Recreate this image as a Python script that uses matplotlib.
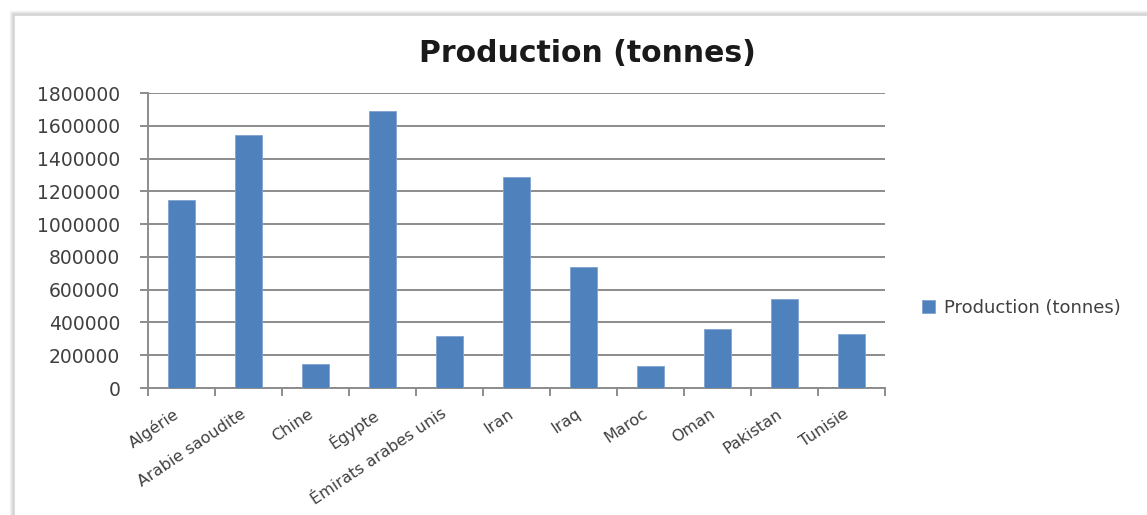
import matplotlib
matplotlib.use("Agg")
import matplotlib.pyplot as plt
from matplotlib.patches import Rectangle
from matplotlib.ticker import FixedLocator
import numpy as np

categories = ["Algérie", "Arabie saoudite", "Chine", "Égypte", "Émirats arabes unis",
              "Iran", "Iraq", "Maroc", "Oman", "Pakistan", "Tunisie"]
production = [1150000, 1545000, 148000, 1690000, 318000,
              1290000, 736000, 135000, 363000, 544000, 330000]
yticks = [0, 200000, 400000, 600000, 800000, 1000000, 1200000, 1400000, 1600000, 1800000]
title = "Production (tonnes)"
series_name = "Production (tonnes)"

BAR = "#4F81BD"
TXT = "#404040"
GRID = "#8c8c8c"

plt.rcParams["font.family"] = ["DejaVu Sans"]

W, H = 1147, 515
fig = plt.figure(figsize=(W / 100, H / 100), dpi=100)
fig.patch.set_facecolor("white")

# outer chart frame with soft shadow
for i, a in enumerate([0.04, 0.07, 0.10, 0.15]):
    off = 4 - i
    fig.add_artist(Rectangle(((14 - off) / W, -0.1), (W + 50) / W, (H - 15 + off) / H + 0.1,
                             transform=fig.transFigure, fill=False,
                             edgecolor="#000000", alpha=a, linewidth=1.0))
fig.add_artist(Rectangle((14 / W, -0.1), (W + 50) / W, (H - 15) / H + 0.1,
                         transform=fig.transFigure, fill=False,
                         edgecolor="#d4d4d4", linewidth=1.2))

left, right, top, bottom = 148, 885, 93, 388
ax = fig.add_axes([left / W, 1 - bottom / H, (right - left) / W, (bottom - top) / H])

x = np.arange(len(categories))
ax.bar(x, production, width=0.39, color=BAR, label=series_name, zorder=3,
       edgecolor="#7fa3d0", linewidth=0.6)

ax.set_xlim(-0.5, len(categories) - 0.5)
ax.set_ylim(0, 1800000)
ax.set_yticks(yticks)
ax.set_yticklabels([str(v) for v in yticks])
ax.yaxis.grid(True, color=GRID, linewidth=1.4, zorder=0)
ax.set_axisbelow(True)

ax.set_xticks(x)
ax.set_xticklabels(categories, rotation=34, ha="right", rotation_mode="default")
ax.xaxis.set_minor_locator(FixedLocator(np.arange(-0.5, len(categories), 1.0)))
ax.tick_params(axis="x", which="major", length=0, pad=13, labelsize=11.5, labelcolor=TXT)
ax.tick_params(axis="x", which="minor", length=6, width=1.4, color=GRID, direction="out")
ax.tick_params(axis="y", which="major", length=6, width=1.4, color=GRID, pad=14,
               labelsize=13.5, labelcolor=TXT)

for s in ["top", "right"]:
    ax.spines[s].set_visible(False)
for s in ["left", "bottom"]:
    ax.spines[s].set_color(GRID)
    ax.spines[s].set_linewidth(1.4)

fig.text(587 / W, 1 - 54 / H, title, ha="center", va="center",
         fontsize=21.5, fontweight="bold", color="#1a1a1a")

leg = ax.legend(loc="center left", bbox_to_anchor=(922 / W, 1 - 308 / H),
                bbox_transform=fig.transFigure, frameon=False, fontsize=13,
                handlelength=0.7, handleheight=0.7, handletextpad=0.5,
                labelcolor=TXT, borderaxespad=0, borderpad=0)

fig.savefig("out.png", dpi=100, facecolor="white")
